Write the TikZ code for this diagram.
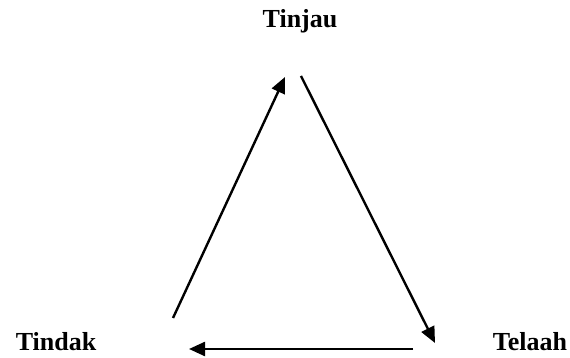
\documentclass[tikz,border=0pt]{standalone}
\usepackage{fontspec}
\setmainfont{Liberation Serif}
\usetikzlibrary{arrows.meta}
\begin{document}
\begin{tikzpicture}[x=1pt,y=1pt,font=\fontsize{26}{30}\selectfont\bfseries,
  flow/.style={line width=2.4pt,-{Triangle[length=16pt,width=14pt]}}]
\useasboundingbox (0,0) rectangle (570,358);
\node[anchor=base] (tinjau) at (300,330) {Tinjau};
\node[anchor=base] (tindak) at (56,7) {Tindak};
\node[anchor=base] (telaah) at (530,7) {Telaah};
% ends of the three arrows
\coordinate (a1) at (173,40);\coordinate (b1) at (285,281);
\coordinate (a2) at (301,282);\coordinate (b2) at (435,15);
\coordinate (a3) at (413,9);\coordinate (b3) at (189,9);
\draw[flow] (a1)--(b1);
\draw[flow] (a2)--(b2);
\draw[flow] (a3)--(b3);
\end{tikzpicture}
\end{document}
